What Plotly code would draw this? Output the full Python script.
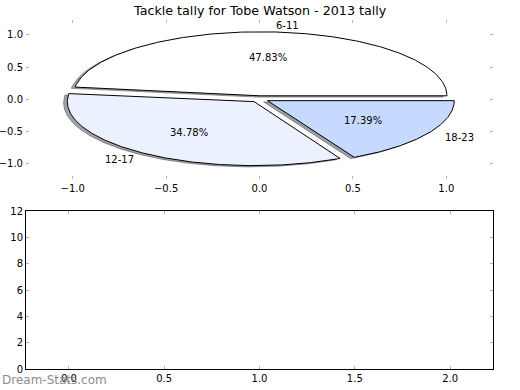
import numpy as np
import plotly.graph_objects as go

# ---- data ----
labels = ["6-11", "12-17", "18-23"]
values = [11, 8, 4]
colors = ["#ffffff", "#ebf1ff", "#c6d9ff"]
explode = [0.05, 0.05, 0.05]
title_text = "Tackle tally for Tobe Watson - 2013 tally"
pie_tickvals = [-1.0, -0.5, 0.0, 0.5, 1.0]
pie_ticktext = ["\u22121.0", "\u22120.5", "0.0", "0.5", "1.0"]
bot_xtickvals = [0.0, 0.5, 1.0, 1.5, 2.0]
bot_xticktext = ["0.0", "0.5", "1.0", "1.5", "2.0"]
bot_ytickvals = [0, 2, 4, 6, 8, 10, 12]
bot_yticktext = ["0", "2", "4", "6", "8", "10", "12"]
watermark = "Dream-Stats.com"

W, H = 520, 390
FONT = "DejaVu Sans"


def hex_rgb(h):
    h = h.lstrip("#")
    return tuple(int(h[i:i + 2], 16) for i in (0, 2, 4))


def shadow_color(h):
    r, g, b = hex_rgb(h)
    # matplotlib Shadow: 0.3 * facecolor, alpha 0.5
    return "rgba(%d,%d,%d,0.5)" % (r * 0.3, g * 0.3, b * 0.3)


fig = go.Figure()

total = float(sum(values))
fracs = [v / total for v in values]
theta = 0.0
wedges = []
for frac, e in zip(fracs, explode):
    t1, t2 = theta, theta + 360.0 * frac
    mid = np.deg2rad((t1 + t2) / 2.0)
    cx, cy = e * np.cos(mid), e * np.sin(mid)
    ang = np.deg2rad(np.linspace(t1, t2, 200))
    xs = np.concatenate([[cx], cx + np.cos(ang), [cx]])
    ys = np.concatenate([[cy], cy + np.sin(ang), [cy]])
    wedges.append((xs, ys, cx, cy, mid, frac))
    theta = t2

# shadows first (behind all wedges)
for (xs, ys, cx, cy, mid, frac), col in zip(wedges, colors):
    sc = shadow_color(col)
    fig.add_trace(go.Scatter(x=xs - 0.02, y=ys - 0.02, mode="lines", fill="toself",
                             fillcolor=sc, line=dict(color=sc, width=1),
                             hoverinfo="skip", xaxis="x", yaxis="y"))

for (xs, ys, cx, cy, mid, frac), col, lab in zip(wedges, colors, labels):
    fig.add_trace(go.Scatter(x=xs, y=ys, mode="lines", fill="toself",
                             fillcolor=col, line=dict(color="black", width=1),
                             hoverinfo="skip", xaxis="x", yaxis="y"))

annotations = []
for (xs, ys, cx, cy, mid, frac), lab in zip(wedges, labels):
    xt = cx + 1.1 * np.cos(mid)
    yt = cy + 1.1 * np.sin(mid)
    annotations.append(dict(x=xt, y=yt, xref="x", yref="y", text=lab, showarrow=False,
                            xanchor="left" if xt > 0 else "right", yanchor="middle",
                            font=dict(size=10, color="black", family=FONT)))
    xp = cx + 0.6 * np.cos(mid)
    yp = cy + 0.6 * np.sin(mid)
    annotations.append(dict(x=xp, y=yp, xref="x", yref="y", text="%.2f%%" % (frac * 100),
                            showarrow=False, xanchor="center", yanchor="middle",
                            font=dict(size=10, color="black", family=FONT)))

annotations.append(dict(x=0.5, y=1 - 10 / H, xref="paper", yref="paper", text=title_text,
                        showarrow=False, xanchor="center", yanchor="middle",
                        font=dict(size=12.7, color="black", family=FONT)))
annotations.append(dict(x=0, y=1 - 380 / H, xref="paper", yref="paper", text=watermark,
                        showarrow=False, xanchor="left", yanchor="middle",
                        font=dict(size=12, color="#8c8c8c", family=FONT)))

# empty trace for bottom axes
fig.add_trace(go.Scatter(x=[], y=[], xaxis="x2", yaxis="y2", hoverinfo="skip"))

xdom = [26 / W, 493 / W]
tick_common = dict(ticks="inside", ticklen=3, tickwidth=1, tickcolor="#b4b4b4",
                   showgrid=False, zeroline=False, automargin=False,
                   tickfont=dict(size=10, color="black", family=FONT))

fig.update_layout(
    width=W, height=H,
    margin=dict(l=0, r=0, t=0, b=0, autoexpand=False),
    paper_bgcolor="white", plot_bgcolor="white",
    showlegend=False,
    font=dict(family=FONT, size=10, color="black"),
    xaxis=dict(domain=xdom, range=[-1.25, 1.25], anchor="y",
               tickvals=pie_tickvals, ticktext=pie_ticktext,
               showline=True, linecolor="rgba(0,0,0,0)", mirror="ticks", **tick_common),
    yaxis=dict(domain=[1 - 178.5 / H, 1 - 19.5 / H], range=[-1.242, 1.242], anchor="x",
               tickvals=pie_tickvals, ticktext=pie_ticktext,
               showline=True, linecolor="rgba(0,0,0,0)", mirror="ticks", **tick_common),
    xaxis2=dict(domain=xdom, range=[-0.225, 2.225], anchor="y2",
                tickvals=bot_xtickvals, ticktext=bot_xticktext,
                showline=True, linecolor="black", linewidth=1, mirror="ticks", **tick_common),
    yaxis2=dict(domain=[1 - 369 / H, 1 - 211 / H], range=[0, 12], anchor="x2",
                tickvals=bot_ytickvals, ticktext=bot_yticktext,
                showline=True, linecolor="black", linewidth=1, mirror="ticks", **tick_common),
    annotations=annotations,
)

fig.write_html(
    "out.html",
    config={"displayModeBar": False, "staticPlot": True},
    post_script="document.body.style.margin='0';document.body.style.padding='0';"
                "document.documentElement.style.overflow='hidden';",
)
